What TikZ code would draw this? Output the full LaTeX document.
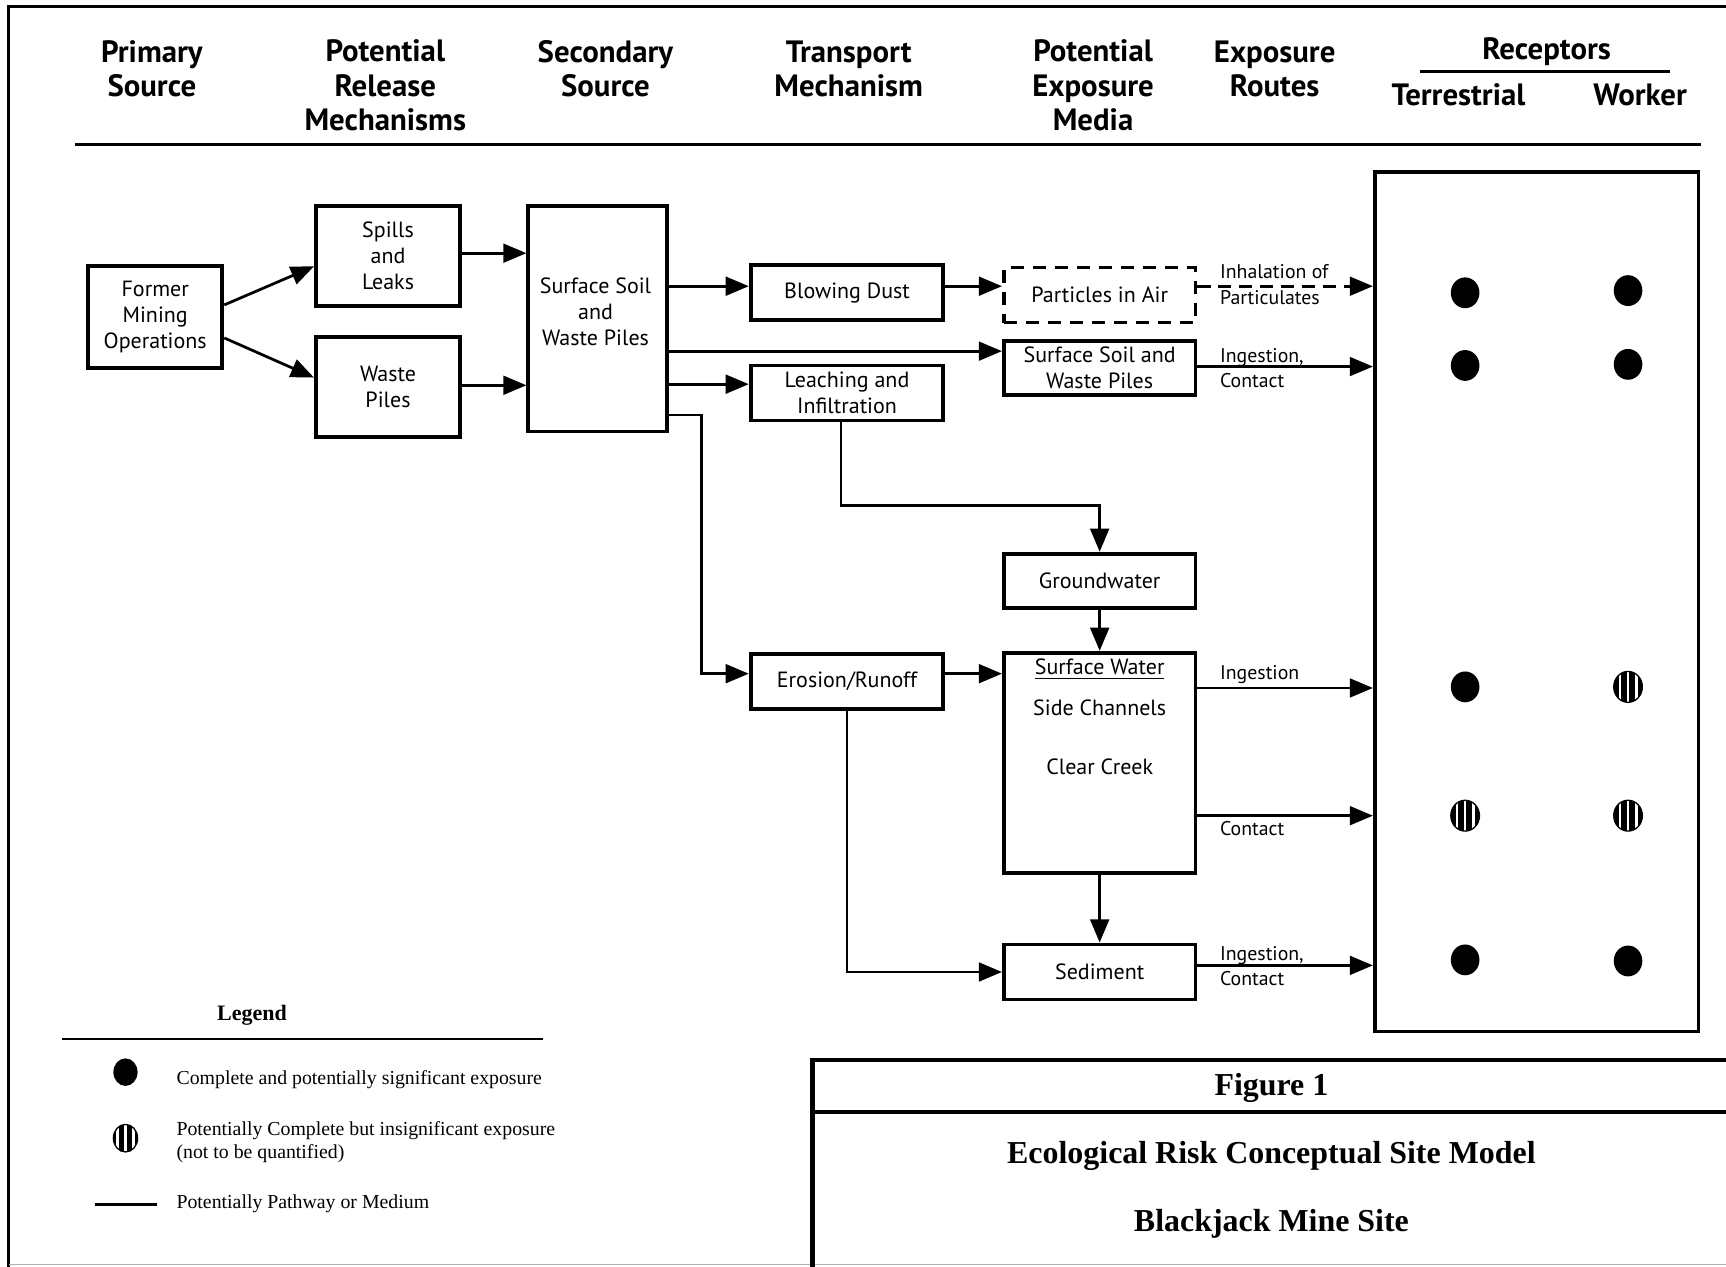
\documentclass[tikz,border=0pt]{standalone}
\usepackage{fontspec}
\setmainfont{PT Sans}
\newfontfamily\lserif{Liberation Serif}
\usetikzlibrary{arrows.meta,calc,shapes.geometric}
\begin{document}
\begin{tikzpicture}[x=0.5pt,y=-0.5pt,
  box/.style={draw, line width=1.75pt, inner sep=0pt, align=center, font=\fontsize{10}{11.75}\selectfont},
  btext/.style={inner sep=0pt, align=center, font=\fontsize{10}{11.75}\selectfont},
  arr/.style={line width=1.25pt, -{Triangle[length=10.5pt,width=8.5pt]}},
  hdr/.style={align=center, inner sep=0pt, font=\bfseries\fontsize{14}{15.5}\selectfont},
  lbl/.style={anchor=west, align=left, inner sep=0pt, font=\fontsize{9}{11.5}\selectfont},
  legt/.style={anchor=west, align=left, inner sep=0pt, font=\lserif\fontsize{9}{10.5}\selectfont},
  ftitle/.style={inner sep=0pt, font=\lserif\bfseries\fontsize{14.5}{17}\selectfont},
  dot/.style={ellipse, fill=black, inner sep=0pt, minimum width=13pt, minimum height=14pt},
  sdot/.style={ellipse, fill=black, draw=black, line width=0.6pt, inner sep=0pt, minimum width=13pt, minimum height=14pt,
    path picture={\foreach \xx in {-3.7,0,3.7}{\fill[white] ($(path picture bounding box.center)+(\xx pt-0.6pt,-10pt)$) rectangle ++(1.2pt,20pt);}}},
]
\useasboundingbox (0,0) rectangle (1568,1151);
% frame
\draw[line width=1.5pt] (8,1151) -- (8,6) -- (1575,6);
\draw[gray!60, line width=0.6pt] (8,1149) -- (1575,1149);

% headers
\node[hdr] (h1) at (138,62.5) {Primary\\Source};
\node[hdr] (h2) at (350,77.5) {Potential\\Release\\Mechanisms};
\node[hdr] (h3) at (550,62.5) {Secondary\\Source};
\node[hdr] (h4) at (771,62.5) {Transport\\Mechanism};
\node[hdr] (h5) at (993,77.5) {Potential\\Exposure\\Media};
\node[hdr] (h6) at (1158,62.5) {Exposure\\Routes};
\node[hdr] (h7) at (1405,47) {Receptors};
\node[hdr] (h8) at (1325,86) {Terrestrial};
\node[hdr] (h9) at (1490,86) {Worker};
\draw[line width=1pt] (1290,65) -- (1517,65);
\draw[line width=1.5pt] (68,131) -- (1545,131);

% boxes
\node[box, minimum width=61pt, minimum height=46pt] (fmo) at (141,288) {Former\\Mining\\Operations};
\node[box, minimum width=65.5pt, minimum height=45.5pt] (spl) at (352.5,232.5) {Spills\\and\\Leaks};
\node[box, minimum width=65.5pt, minimum height=45.5pt] (wp) at (352.5,351.5) {Waste\\Piles};
\node[box, minimum width=63pt, minimum height=102.5pt] (ssw) at (543,289.5) {};
\node[btext] (sswt) at (541,283.5) {Surface Soil\\and\\Waste Piles};
\node[box, minimum width=87.5pt, minimum height=25pt] (blow) at (769.5,266) {Blowing Dust};
\node[box, minimum width=87.5pt, minimum height=25pt] (leach) at (769.5,357) {Leaching and\\Infiltration};
\node[box, minimum width=87.5pt, minimum height=25pt] (eros) at (769.5,619) {Erosion/Runoff};
\node[box, dash pattern=on 6pt off 4pt, minimum width=87pt, minimum height=25pt] (air) at (999,268) {Particles in Air};
\node[box, minimum width=87pt, minimum height=24.5pt] (ssm) at (999,334.5) {Surface Soil and\\Waste Piles};
\node[box, minimum width=87pt, minimum height=24.5pt] (gw) at (999,527.5) {Groundwater};
\node[box, minimum width=87pt, minimum height=100pt] (sw) at (999,693) {};
\node[btext] (sw1) at (999,608) {\underline{Surface Water}};
\node[btext] (sw2) at (999,643) {Side Channels};
\node[btext] (sw3) at (999,697) {Clear Creek};
\node[box, minimum width=87pt, minimum height=25pt] (sed) at (999,883) {Sediment};
\node[box, minimum width=147pt, minimum height=390.5pt] (rec) at (1396,546.5) {};

% connectors
\draw[arr] ($(fmo.east)+(0,-11)$) -- ($(spl.west)+(0,9.5)$);
\draw[arr] ($(fmo.east)+(0,19)$) -- ($(wp.west)+(0,-8.5)$);
\draw[arr] (spl.east |- 0,230) -- (ssw.west |- 0,230);
\draw[arr] (wp.east |- 0,350) -- (ssw.west |- 0,350);
\draw[arr] (ssw.east |- 0,260) -- (blow.west |- 0,260);
\draw[arr] (ssw.east |- 0,319) -- (ssm.west |- 0,319);
\draw[arr] (ssw.east |- 0,349) -- (leach.west |- 0,349);
\draw[arr] (ssw.east |- 0,377) -- (637,377) |- (eros.west |- 0,612);
\draw[arr] (blow.east |- 0,260) -- (air.west |- 0,260);
\draw[arr] (764,0 |- leach.south) |- (gw.north |- 0,459) -- (gw.north);
\draw[arr] (gw.south) -- (sw.north);
\draw[arr] (eros.east |- 0,612) -- (sw.west |- 0,612);
\draw[arr] (eros.south) |- (sed.west);
\draw[arr] (sw.south) -- (sed.north);
\draw[arr, dash pattern=on 6pt off 3.5pt] (air.east |- 0,260) -- (rec.west |- 0,260);
\draw[arr] (ssm.east |- 0,333) -- (rec.west |- 0,333);
\draw[arr] (sw.east |- 0,625) -- (rec.west |- 0,625);
\draw[arr] (sw.east |- 0,741) -- (rec.west |- 0,741);
\draw[arr] (sed.east |- 0,877) -- (rec.west |- 0,877);

% route labels
\node[lbl] (r1) at (1108,258.5) {Inhalation of\\Particulates};
\node[lbl] (r2) at (1108,334.5) {Ingestion,\\Contact};
\node[lbl] (r3) at (1108,613) {Ingestion};
\node[lbl] (r4) at (1108,753) {Contact};
\node[lbl] (r5) at (1108,877.5) {Ingestion,\\Contact};

% receptor dots
\node[dot] (d11) at (1331,266) {};
\node[dot] (d12) at (1479,264) {};
\node[dot] (d21) at (1331,332) {};
\node[dot] (d22) at (1479,331) {};
\node[dot] (d31) at (1331,624) {};
\node[sdot] (d32) at (1479,624) {};
\node[sdot] (d41) at (1331,741) {};
\node[sdot] (d42) at (1479,741) {};
\node[dot] (d51) at (1331,872) {};
\node[dot] (d52) at (1479,873) {};

% legend
\node[inner sep=0pt, font=\lserif\bfseries\fontsize{10}{12}\selectfont] (leg) at (229,922) {Legend};
\draw[line width=1pt] (56,944) -- (493,944);
\node[dot, minimum width=11pt, minimum height=12.5pt] (ld1) at (114,974) {};
\node[legt] (lt1) at (160,981) {Complete and potentially significant exposure};
\node[sdot, minimum width=11pt, minimum height=12.5pt] (ld2) at (114,1034) {};
\node[legt] (lt2) at (160,1037.5) {Potentially Complete but insignificant exposure\\(not to be quantified)};
\draw[line width=1.25pt] (86,1094) -- (143,1094);
\node[legt] (lt3) at (160,1094) {Potentially Pathway or Medium};

% figure box
\draw[line width=2pt] (1575,963) -- (738,963) -- (738,1151);
\draw[line width=2pt] (738,1010) -- (1575,1010);
\node[ftitle] (fig) at (1155,988) {Figure 1};
\node[ftitle] (t1) at (1155,1050) {Ecological Risk Conceptual Site Model};
\node[ftitle] (t2) at (1155,1112) {Blackjack Mine Site};
\end{tikzpicture}
\end{document}
